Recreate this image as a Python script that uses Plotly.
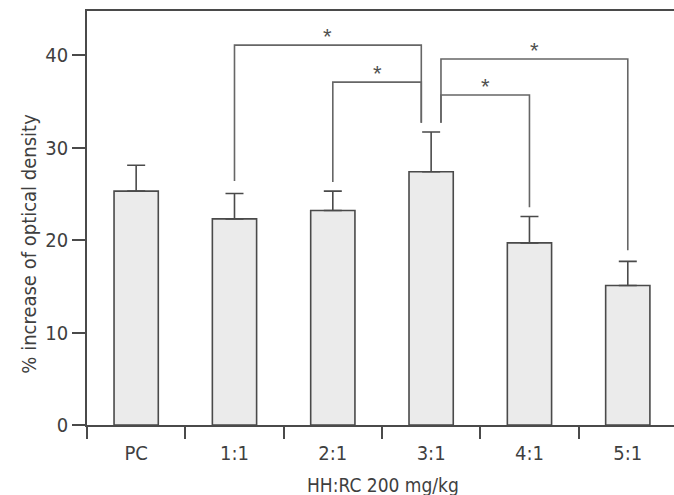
import plotly.graph_objects as go

categories = ["PC", "1:1", "2:1", "3:1", "4:1", "5:1"]
values = [25.3, 22.3, 23.2, 27.4, 19.7, 15.1]
errors = [2.8, 2.75, 2.1, 4.3, 2.85, 2.6]

y_ticks = [0, 10, 20, 30, 40]
x_title = "HH:RC 200 mg/kg"
y_title = "% increase of optical density"

# significance brackets: (left x, right x, top y, left-leg bottom y, right-leg bottom y)
brackets = [
    (1.0, 2.9, 41.1, 26.4, 32.7),
    (2.0, 2.9, 37.1, 26.3, 32.7),
    (3.1, 5.0, 39.6, 32.7, 18.9),
    (3.1, 4.0, 35.7, 32.7, 23.55),
]
star_label = "*"

FONT = "DejaVu Sans Condensed, Roboto Condensed, Arial Narrow, sans-serif"
TXT = "#3f3f3f"
LINE = "#4a4a4a"

idx = list(range(len(categories)))

fig = go.Figure()
fig.add_trace(go.Bar(
    x=idx, y=values, width=0.45,
    marker=dict(color="#ebebeb", line=dict(color=LINE, width=1.6)),
    error_y=dict(type="data", symmetric=False, array=errors,
                 arrayminus=[0] * len(errors), color=LINE, thickness=1.6, width=9),
    showlegend=False, hoverinfo="skip",
))

for (xl, xr, yt, ybl, ybr) in brackets:
    fig.add_trace(go.Scatter(
        x=[xl, xl, xr, xr], y=[ybl, yt, yt, ybr], mode="lines",
        line=dict(color="#666666", width=1.6), showlegend=False, hoverinfo="skip",
    ))
    fig.add_annotation(x=(xl + xr) / 2, y=yt, text=star_label, showarrow=False,
                       yanchor="bottom", yshift=-6,
                       font=dict(family="Liberation Sans, Arial, sans-serif", size=22, color="#505050"))

# axis titles placed as annotations
fig.add_annotation(text=y_title, xref="paper", yref="paper", x=0, y=0.438,
                   xshift=-72, textangle=-90, showarrow=False,
                   font=dict(family=FONT, size=20, color=TXT))
fig.add_annotation(text=x_title, xref="paper", yref="paper", x=0.504, y=0,
                   yanchor="top", yshift=-47, showarrow=False,
                   font=dict(family=FONT, size=19, color=TXT))

fig.update_layout(
    width=674, height=495,
    margin=dict(l=87, r=0, t=11, b=70),
    paper_bgcolor="white", plot_bgcolor="white",
    font=dict(family=FONT, size=20, color=TXT),
)
# boundary ticks (between categories) on an overlay axis
fig.update_layout(xaxis2=dict(
    overlaying="x", range=[-0.5, 5.47], tickmode="array",
    tickvals=[i - 0.5 for i in idx], ticktext=[""] * len(idx),
    ticks="outside", ticklen=13, tickwidth=1.6, tickcolor=LINE,
    showline=False, showgrid=False, zeroline=False, side="bottom", anchor="y",
))
fig.add_trace(go.Scatter(x=[0], y=[0], xaxis="x2", mode="markers",
                         marker=dict(opacity=0), showlegend=False, hoverinfo="skip"))
fig.layout.xaxis.update(
    range=[-0.5, 5.47], tickmode="array", tickvals=idx, ticktext=categories,
    showline=True, linecolor=LINE, linewidth=1.6, mirror=True,
    ticks="outside", ticklen=9, tickcolor="rgba(0,0,0,0)",
    showgrid=False, zeroline=False, automargin=False,
)
fig.update_yaxes(
    range=[0, 44.79], tickmode="array", tickvals=y_ticks,
    showline=True, linecolor=LINE, linewidth=1.6,
    ticks="outside", ticklen=13, tickwidth=1.6, tickcolor=LINE,
    showgrid=False, zeroline=False, automargin=False,
)

fig.write_html("out.html")
